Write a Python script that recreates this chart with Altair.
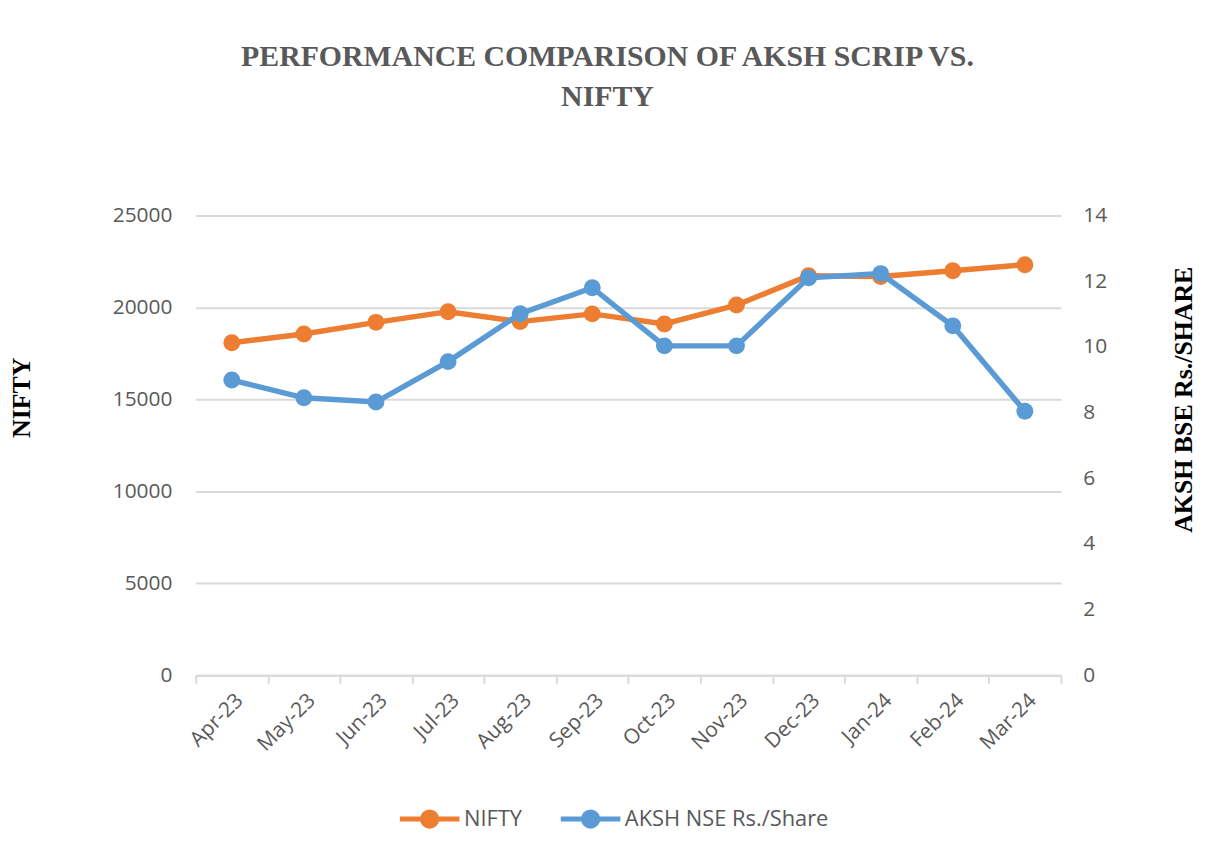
import altair as alt
import pandas as pd

months = ["Apr-23", "May-23", "Jun-23", "Jul-23", "Aug-23", "Sep-23",
          "Oct-23", "Nov-23", "Dec-23", "Jan-24", "Feb-24", "Mar-24"]
nifty = [18080, 18560, 19190, 19770, 19230, 19650,
         19100, 20130, 21720, 21680, 21990, 22320]
aksh = [8.99, 8.45, 8.32, 9.55, 11.01, 11.80,
        10.03, 10.03, 12.10, 12.23, 10.64, 8.04]

series_names = ["NIFTY", "AKSH NSE Rs./Share"]
colors = ["#ED7D31", "#5B9BD5"]

df = pd.DataFrame({"month": months, "nifty": nifty, "aksh": aksh})

LABEL_FONT = "Open Sans"
GRAY = "#595959"

legend_path = ("M-1,0L1,0"
               "M-0.24,0A0.24,0.24,0,1,0,0.24,0A0.24,0.24,0,1,0,-0.24,0Z")

color = alt.Color(
    "series:N",
    scale=alt.Scale(domain=series_names, range=colors),
    legend=alt.Legend(
        title=None, orient="none", direction="horizontal",
        legendX=203, legendY=575,
        symbolType=legend_path, symbolSize=3600, symbolStrokeWidth=5,
        labelFont=LABEL_FONT, labelFontSize=22, labelColor=GRAY,
        labelOffset=2, columnPadding=28, labelLimit=400,
    ),
)

x = alt.X(
    "month:N", sort=months,
    scale=alt.Scale(paddingInner=0, paddingOuter=0),
    axis=alt.Axis(
        title=None, labelAngle=-45, labelFont=LABEL_FONT, labelFontSize=21,
        labelColor=GRAY, tickBand="extent", ticks=True, tickSize=8,
        tickColor="#D9D9D9", tickWidth=2, domainColor="#D9D9D9", domainWidth=2,
        grid=False, labelPadding=6,
    ),
)

base = alt.Chart(df)

point_def = alt.OverlayMarkDef(filled=True, size=290)

left = base.transform_calculate(series="'NIFTY'").mark_line(
    strokeWidth=5.5, point=point_def
).encode(
    x=x,
    y=alt.Y(
        "nifty:Q",
        scale=alt.Scale(domain=[0, 25000], nice=False),
        axis=alt.Axis(
            title="NIFTY", values=[0, 5000, 10000, 15000, 20000, 25000],
            format="d", labelFont=LABEL_FONT, labelFontSize=21, labelColor=GRAY,
            labelPadding=24, ticks=False, domain=False, grid=True,
            gridColor="#D9D9D9", gridWidth=2,
            titleFont="Liberation Serif", titleFontSize=26, titleFontWeight="bold",
            titleColor="#000000", titleX=-175, titleY=183, titleAngle=270,
            titleAlign="center", titleBaseline="middle",
        ),
    ),
    color=color,
)

right = base.transform_calculate(series="'AKSH NSE Rs./Share'").mark_line(
    strokeWidth=5.5, point=point_def
).encode(
    x=x,
    y=alt.Y(
        "aksh:Q",
        scale=alt.Scale(domain=[0, 14], nice=False),
        axis=alt.Axis(
            title="AKSH BSE Rs./SHARE", orient="right",
            values=[0, 2, 4, 6, 8, 10, 12, 14],
            labelFont=LABEL_FONT, labelFontSize=21, labelColor=GRAY,
            labelPadding=22, ticks=False, domain=False, grid=False,
            titleFont="Liberation Serif", titleFontSize=26, titleFontWeight="bold",
            titleColor="#000000", titleX=123, titleY=185, titleAngle=270,
            titleAlign="center", titleBaseline="middle",
        ),
    ),
    color=color,
)

chart = alt.layer(left, right).resolve_scale(y="independent").properties(
    width=871, height=463,
    title=alt.TitleParams(
        ["PERFORMANCE COMPARISON OF AKSH SCRIP VS.", "NIFTY"],
        font="Liberation Serif", fontSize=30, fontWeight="bold", color=GRAY,
        anchor="middle", offset=93, lineHeight=40, dx=-21,
    ),
    autosize=alt.AutoSizeParams(type="none"),
    padding={"left": 189, "top": 206, "right": 140, "bottom": 180},
).configure_view(stroke=None)

chart.save("out.html", embed_options={"renderer": "svg", "actions": False})
